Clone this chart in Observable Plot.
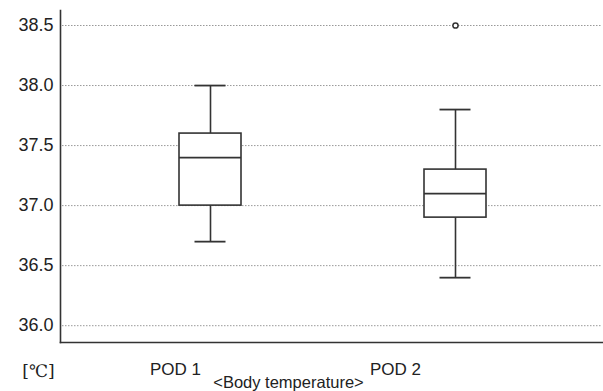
<!DOCTYPE html>
<html>
<head>
<meta charset="utf-8">
<script src="https://cdn.jsdelivr.net/npm/d3@7"></script>
<script src="https://cdn.jsdelivr.net/npm/@observablehq/plot@0.6"></script>
<style>
  body { margin: 0; background: #fff; }
</style>
</head>
<body>
<div id="chart"></div>
<script>
const groups = ["POD 1", "POD 2"];
const whiskerLow = [36.7, 36.4];
const q1 = [37.0, 36.9];
const median = [37.4, 37.1];
const q3 = [37.6, 37.3];
const whiskerHigh = [38.0, 37.8];
const outlierGroups = ["POD 2"];
const outlierValues = [38.5];
const yTicks = [36.0, 36.5, 37.0, 37.5, 38.0, 38.5];
const unitLabel = "[℃]";
const xTitle = "<Body temperature>";

const boxes = groups.map((g, i) => ({
  group: g, lo: whiskerLow[i], q1: q1[i], med: median[i], q3: q3[i], hi: whiskerHigh[i]
}));
const outliers = outlierGroups.map((g, i) => ({group: g, value: outlierValues[i]}));

const ink = "#333";
const font = "Liberation Sans, Arial, sans-serif";

const chart = Plot.plot({
  width: 603,
  height: 391,
  marginLeft: 60,
  marginRight: 1,
  marginTop: 10,
  marginBottom: 49,
  style: {fontFamily: font, background: "#fff"},
  x: {domain: groups, range: [179, 486], paddingInner: 0.747, paddingOuter: 0, axis: null},
  y: {domain: [35.86, 38.625], ticks: yTicks, axis: null},
  marks: [
    Plot.ruleY(yTicks, {stroke: "#999", strokeWidth: 1, strokeDasharray: "1.5,1.5", insetLeft: 2}),
    Plot.axisY({ticks: yTicks, tickFormat: d => d.toFixed(1), tickSize: 0, tickPadding: 7,
      fontSize: 18, fill: "#222", label: null}),
    Plot.axisX(["POD 1"], {tickSize: 0, tickPadding: 20, fontSize: 17, fill: "#222", label: null, dx: -35}),
    Plot.axisX(["POD 2"], {tickSize: 0, tickPadding: 20, fontSize: 17, fill: "#222", label: null, dx: -60}),
    // whiskers
    Plot.ruleX(boxes, {x: "group", y1: "lo", y2: "q1", stroke: ink, strokeWidth: 1.6}),
    Plot.ruleX(boxes, {x: "group", y1: "q3", y2: "hi", stroke: ink, strokeWidth: 1.6}),
    Plot.tickY(boxes, {x: "group", y: "lo", stroke: ink, strokeWidth: 1.8, insetLeft: 15.5, insetRight: 15.5}),
    Plot.tickY(boxes, {x: "group", y: "hi", stroke: ink, strokeWidth: 1.8, insetLeft: 15.5, insetRight: 15.5}),
    // box
    Plot.barY(boxes, {x: "group", y1: "q1", y2: "q3", fill: "#fff", stroke: ink, strokeWidth: 1.6}),
    Plot.tickY(boxes, {x: "group", y: "med", stroke: ink, strokeWidth: 1.8}),
    // outliers
    Plot.dot(outliers, {x: "group", y: "value", r: 2.6, stroke: ink, strokeWidth: 1.5, fill: "#fff"}),
    // axis frame lines
    Plot.frame({anchor: "left", stroke: ink, strokeWidth: 1.6}),
    Plot.frame({anchor: "bottom", stroke: ink, strokeWidth: 1.6}),
    // labels
    Plot.text([unitLabel], {frameAnchor: "bottom-left", text: d => d, textAnchor: "middle", dx: -22, dy: 34,
      fontSize: 17, fontFamily: "DejaVu Serif, serif", fill: "#222"}),
    Plot.text([xTitle], {frameAnchor: "bottom", text: d => d, dx: -43, dy: 45,
      fontSize: 16.5, fill: "#222"})
  ]
});
document.getElementById("chart").append(chart);
</script>
</body>
</html>
